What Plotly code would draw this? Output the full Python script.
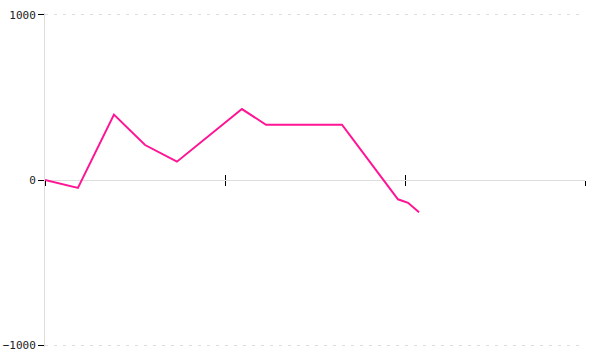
import plotly.graph_objects as go

# x positions in axis units (ticks at 0, 1, 2, 3)
x_vals = [0, 0.183, 0.383, 0.556, 0.733, 1.094, 1.228, 1.65, 1.961, 1.98, 2.017, 2.078]
y_vals = [0, -48, 396, 212, 111, 430, 335, 335, -117, -123, -138, -196]
y_ticks = [-1000, 0, 1000]
x_ticks = [0, 1, 2, 3]

fig = go.Figure()
fig.add_trace(go.Scatter(x=x_vals, y=y_vals, mode="lines",
                         line=dict(color="#ff1493", width=2), showlegend=False,
                         cliponaxis=False))
fig.add_trace(go.Scatter(x=[x_ticks[0], x_ticks[-1]], y=[0, 0], mode="lines",
                         line=dict(width=0), xaxis="x2", hoverinfo="skip", showlegend=False))

fig.update_layout(
    width=600, height=360,
    margin=dict(l=45, r=15, t=13, b=13, autoexpand=False),
    paper_bgcolor="white", plot_bgcolor="white",
    font=dict(family="DejaVu Sans Mono", size=11, color="#222"),
    xaxis=dict(range=[0, 3], tickvals=x_ticks, showticklabels=False,
               ticks="outside", ticklen=5, tickcolor="black", tickwidth=1,
               showgrid=False, zeroline=False, showline=False,
               anchor="free", position=0.5, automargin=False),
    xaxis2=dict(range=[0, 3], tickvals=x_ticks, showticklabels=False,
                ticks="inside", ticklen=5, tickcolor="black", tickwidth=1,
                showgrid=False, zeroline=False, showline=False,
                overlaying="x", anchor="free", position=0.5, automargin=False),
    yaxis=dict(range=[-1012, 1012], tickvals=y_ticks, automargin=False,
               ticks="outside", ticklen=6, tickcolor="black", tickwidth=1,
               showgrid=True, gridcolor="#dddddd", griddash="3px,6px", gridwidth=1,
               zeroline=True, zerolinecolor="#dddddd", zerolinewidth=1,
               showline=True, linecolor="#dddddd", linewidth=1,
               ticklabelstandoff=0),
)
fig.write_html("out.html")
